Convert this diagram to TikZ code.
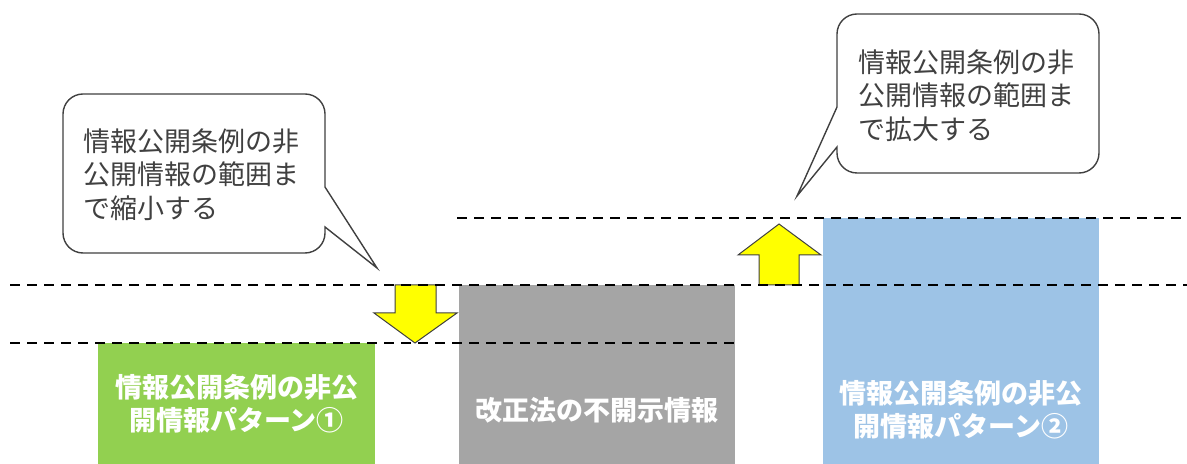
\documentclass[tikz,border=0pt]{standalone}
\usepackage{fontspec}
\newfontfamily\jp{Noto Sans CJK JP}
\definecolor{barG}{HTML}{92D050}
\definecolor{barK}{HTML}{A5A5A5}
\definecolor{barB}{HTML}{9DC3E6}
\definecolor{txt}{HTML}{404040}
\definecolor{arrY}{HTML}{FFFF00}
\begin{document}
\begin{tikzpicture}[x=0.5pt,y=-0.5pt,
  bar/.style={draw=none,inner sep=0pt,minimum width=138pt},
  bartext/.style={text=white,align=center,inner sep=0pt,font=\jp\bfseries\fontsize{13.5pt}{16.5pt}\selectfont},
  calltext/.style={text=txt,align=left,inner sep=0pt,anchor=north west,font=\jp\fontsize{13.5pt}{16.75pt}\selectfont},
  callout/.style={draw=txt,line width=0.7pt,fill=white},
  level/.style={draw=black,line width=1.1pt,dash pattern=on 5pt off 3.5pt},
  bigarrow/.style={fill=arrY,draw=black!75,line width=0.5pt,line join=miter}
]
\useasboundingbox (0,0) rectangle (1187,464);

% bars
\node[bar,fill=barG,minimum height=60.5pt,minimum width=138.5pt] (green) at (236.5,403.5) {};
\node[bar,fill=barK,minimum height=89.5pt] (gray) at (597,374.5) {};
\node[bar,fill=barB,minimum height=123pt] (blue) at (961,341) {};

\node[bartext] (tg) at (236.5,404) {情報公開条例の非公\\開情報パターン①};
\node[bartext] (tk) at (597,410) {改正法の不開示情報};
\node[bartext] (tb) at (961,410) {情報公開条例の非公\\開情報パターン②};

% arrows
\draw[bigarrow] (395,285) -- (436,285) -- (436,313) -- (457,313) -- (415,343) -- (374,313) -- (395,313) -- cycle;
\draw[bigarrow] (759,285) -- (759,255) -- (738,255) -- (779,224) -- (821,255) -- (799,255) -- (799,285) -- cycle;

% dashed levels
\coordinate (t1) at (457,218); \coordinate (t2) at (1187,218);
\coordinate (m1) at (10,285);  \coordinate (m2) at (1187,285);
\coordinate (b1) at (10,343);  \coordinate (b2) at (735,343);
\draw[level] (t1) -- (t2);
\draw[level] (m1) -- (m2);
\draw[level] (b1) -- (b2);

% callouts
\draw[callout] (325,187) -- (377,268) -- (325,227) [rounded corners=10pt] -- (325,253) -- (63,253) -- (63,94) -- (325,94) -- (325,187) [sharp corners] -- cycle;
\node[calltext] (c1) at (83,128) {情報公開条例の非\\公開情報の範囲ま\\で縮小する};

\draw[callout] (837,107) -- (797,196) -- (837,147) [rounded corners=10pt] -- (837,173) -- (1099,173) -- (1099,14) -- (837,14) -- (837,107) [sharp corners] -- cycle;
\node[calltext] (c2) at (858,49) {情報公開条例の非\\公開情報の範囲ま\\で拡大する};
\end{tikzpicture}
\end{document}
